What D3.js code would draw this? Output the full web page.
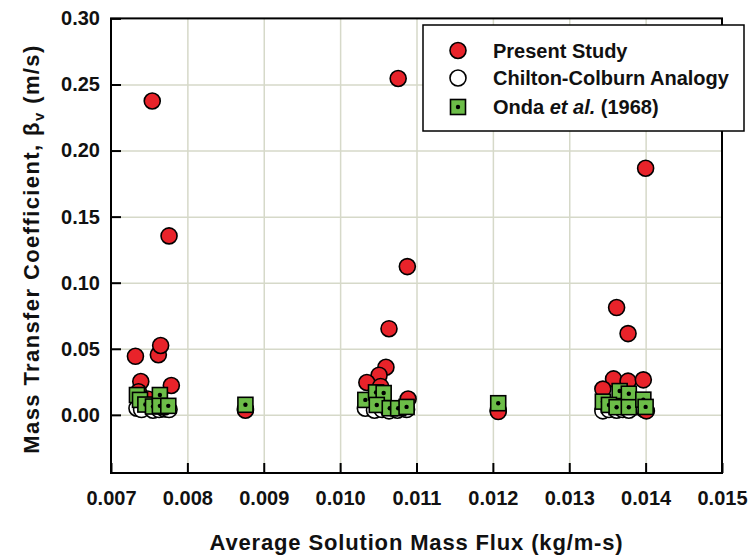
<!DOCTYPE html>
<html>
<head>
<meta charset="utf-8">
<script src="https://cdn.jsdelivr.net/npm/d3@7"></script>
<style>
	body { margin: 0; background: #fff; }
	svg text { font-family: Arial, "Liberation Sans", sans-serif; font-weight: bold; fill: #111; }
	.grid line { stroke: #d6d9c9; stroke-width: 1.5; }
	.grid path { display: none; }
	.axis path { display: none; }
	.axis line { stroke: #000; stroke-width: 2; }
</style>
</head>
<body>
<svg id="chart" width="755" height="556"></svg>
<script>
(function (d3) {
	"use strict";

	/***** Data *****/

	// Present Study (x = flux kg/m-s, y = beta_v m/s)
	var presentX = [0.00754, 0.00776, 0.00732, 0.00762, 0.00765, 0.00739, 0.00779, 0.00736, 0.00748, 0.00770,
		0.01076, 0.01088, 0.01064, 0.01060, 0.01051, 0.01035, 0.01053, 0.01089,
		0.01400, 0.01362, 0.01377, 0.01358, 0.01377, 0.01397, 0.01344, 0.01401,
		0.00876, 0.01207];
	var presentY = [0.2375, 0.1354, 0.0443, 0.0455, 0.0525, 0.0252, 0.0222, 0.0175, 0.0120, 0.0060,
		0.2545, 0.1122, 0.0652, 0.0360, 0.0300, 0.0245, 0.0215, 0.0120,
		0.1866, 0.0812, 0.0615, 0.0272, 0.0255, 0.0265, 0.0195, 0.0030,
		0.0035, 0.0025];

	// Chilton-Colburn Analogy
	var chiltonX = [0.00734, 0.00740, 0.00755, 0.00763, 0.00770, 0.00776,
		0.01033, 0.01045, 0.01055, 0.01064, 0.01075, 0.01087,
		0.01344, 0.01352, 0.01362, 0.01370, 0.01378, 0.01398,
		0.00876, 0.01207];
	var chiltonY = [0.0050, 0.0040, 0.0035, 0.0040, 0.0045, 0.0040,
		0.0050, 0.0035, 0.0040, 0.0030, 0.0035, 0.0040,
		0.0030, 0.0040, 0.0035, 0.0040, 0.0035, 0.0040,
		0.0045, 0.0035];

	// Onda et al. (1968)
	var ondaX = [0.00734, 0.00738, 0.00745, 0.00755, 0.00764, 0.00764, 0.00775,
		0.01033, 0.01047, 0.01057, 0.01048, 0.01065, 0.01076, 0.01087,
		0.01344, 0.01366, 0.01378, 0.01352, 0.01362, 0.01378, 0.01397, 0.01400,
		0.00876, 0.01207];
	var ondaY = [0.0150, 0.0113, 0.0078, 0.0063, 0.0150, 0.0068, 0.0068,
		0.0113, 0.0170, 0.0165, 0.0075, 0.0050, 0.0050, 0.0060,
		0.0100, 0.0180, 0.0160, 0.0075, 0.0058, 0.0058, 0.0115, 0.0060,
		0.0076, 0.0088];

	// Ticks
	var xTicks = [0.007, 0.008, 0.009, 0.010, 0.011, 0.012, 0.013, 0.014, 0.015];
	var yTicks = [0.00, 0.05, 0.10, 0.15, 0.20, 0.25, 0.30];

	var legendLabels = ["Present Study", "Chilton-Colburn Analogy", "Onda et al. (1968)"];

	/***** Layout *****/
	const left = 111, right = 722, top = 18.4, bottom = 473;
	const red = "#e8232a", green = "#6cbd48";

	var svg = d3.select("#chart");

	var x = d3.scaleLinear().domain([0.007, 0.015]).range([left, right]);
	var y = d3.scaleLinear().domain([-0.044, 0.30]).range([bottom, top]);

	function zip(xs, ys) {
		return xs.map(function (v, i) { return {x: v, y: ys[i]}; });
	}

	/***** Grid *****/
	svg.append("g")
		.attr("class", "grid")
		.attr("transform", "translate(0," + bottom + ")")
		.call(d3.axisBottom(x).tickValues(xTicks.slice(1, -1)).tickSize(-(bottom - top)).tickFormat(""));

	svg.append("g")
		.attr("class", "grid")
		.attr("transform", "translate(" + left + ",0)")
		.call(d3.axisLeft(y).tickValues(yTicks.slice(0, -1)).tickSize(-(right - left)).tickFormat(""));

	/***** Axes (ticks pointing inward) *****/
	svg.append("g")
		.attr("class", "axis")
		.attr("transform", "translate(0," + bottom + ")")
		.call(d3.axisBottom(x).tickValues(xTicks).tickSizeInner(-10).tickSizeOuter(0)
			.tickPadding(18).tickFormat(d3.format(".3f")))
		.selectAll("text").style("font-size", "20px");

	svg.append("g")
		.attr("class", "axis")
		.attr("transform", "translate(" + left + ",0)")
		.call(d3.axisLeft(y).tickValues(yTicks).tickSizeInner(-10).tickSizeOuter(0)
			.tickPadding(11).tickFormat(d3.format(".2f")))
		.selectAll("text").style("font-size", "20px");

	/***** Points *****/
	var g = svg.append("g");

	g.selectAll(".chilton").data(zip(chiltonX, chiltonY)).enter().append("circle")
		.attr("class", "chilton")
		.attr("cx", function (d) { return x(d.x); })
		.attr("cy", function (d) { return y(d.y); })
		.attr("r", 8)
		.attr("fill", "#fff").attr("stroke", "#000").attr("stroke-width", 1.6);

	g.selectAll(".present").data(zip(presentX, presentY)).enter().append("circle")
		.attr("class", "present")
		.attr("cx", function (d) { return x(d.x); })
		.attr("cy", function (d) { return y(d.y); })
		.attr("r", 8)
		.attr("fill", red).attr("stroke", "#000").attr("stroke-width", 1.6);

	var sq = g.selectAll(".onda").data(zip(ondaX, ondaY)).enter().append("g")
		.attr("class", "onda")
		.attr("transform", function (d) { return "translate(" + x(d.x) + "," + y(d.y) + ")"; });
	sq.append("rect")
		.attr("x", -7.5).attr("y", -7.5).attr("width", 15).attr("height", 15)
		.attr("fill", green).attr("stroke", "#000").attr("stroke-width", 1.6);
	sq.append("circle").attr("r", 2.2).attr("fill", "#000");

	/***** Frame *****/
	svg.append("rect")
		.attr("x", left).attr("y", top)
		.attr("width", right - left).attr("height", bottom - top)
		.attr("fill", "none").attr("stroke", "#000").attr("stroke-width", 2);

	/***** Legend *****/
	var legend = svg.append("g");
	legend.append("rect")
		.attr("x", 423).attr("y", 25).attr("width", 321).attr("height", 106)
		.attr("fill", "#fff").attr("stroke", "#000").attr("stroke-width", 1.5);

	var rows = [50.5, 78, 107];
	legend.append("circle").attr("cx", 458).attr("cy", rows[0]).attr("r", 8)
		.attr("fill", red).attr("stroke", "#000").attr("stroke-width", 1.6);
	legend.append("circle").attr("cx", 458).attr("cy", rows[1]).attr("r", 8)
		.attr("fill", "#fff").attr("stroke", "#000").attr("stroke-width", 1.6);
	legend.append("rect").attr("x", 458 - 7.5).attr("y", rows[2] - 7.5).attr("width", 15).attr("height", 15)
		.attr("fill", green).attr("stroke", "#000").attr("stroke-width", 1.6);
	legend.append("circle").attr("cx", 458).attr("cy", rows[2]).attr("r", 2.2).attr("fill", "#000");

	legend.append("text").attr("x", 493).attr("y", rows[0]).attr("dy", "0.35em")
		.style("font-size", "20px").text(legendLabels[0]);
	legend.append("text").attr("x", 493).attr("y", rows[1]).attr("dy", "0.35em")
		.style("font-size", "20px").text(legendLabels[1]);
	var onda = legend.append("text").attr("x", 493).attr("y", rows[2]).attr("dy", "0.35em")
		.style("font-size", "20px");
	onda.append("tspan").text("Onda ");
	onda.append("tspan").style("font-style", "italic").text("et al.");
	onda.append("tspan").text(" (1968)");

	/***** Axis titles *****/
	svg.append("text")
		.attr("x", (left + right) / 2).attr("y", 550)
		.attr("text-anchor", "middle")
		.style("font-size", "22px")
		.style("letter-spacing", "0.85px")
		.text("Average Solution Mass Flux (kg/m-s)");

	var yTitle = svg.append("text")
		.attr("transform", "translate(39,249) rotate(-90)")
		.attr("text-anchor", "middle")
		.style("font-size", "22px")
		.style("letter-spacing", "1.4px");
	yTitle.append("tspan").text("Mass Transfer Coefficient, \u03B2");
	yTitle.append("tspan").attr("dy", 5).style("font-size", "15px").text("v");
	yTitle.append("tspan").attr("dy", -5).text(" (m/s)");

})(d3);
</script>
</body>
</html>
